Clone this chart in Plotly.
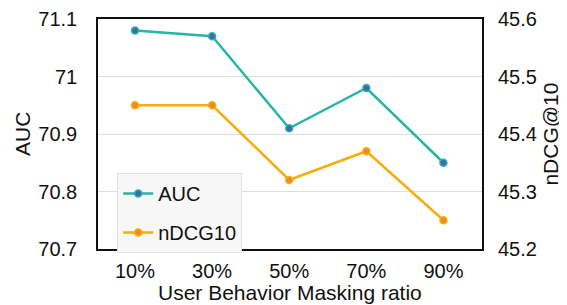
import plotly.graph_objects as go

categories = ["10%", "30%", "50%", "70%", "90%"]
auc = [71.08, 71.07, 70.91, 70.98, 70.85]
ndcg = [45.45, 45.45, 45.32, 45.37, 45.25]
left_ticks = [70.7, 70.8, 70.9, 71.0, 71.1]
left_labels = ["70.7", "70.8", "70.9", "71", "71.1"]
right_ticks = [45.2, 45.3, 45.4, 45.5, 45.6]
right_labels = ["45.2", "45.3", "45.4", "45.5", "45.6"]
x_title = "User Behavior Masking ratio"
y_title = "AUC"
y2_title = "nDCG@10"

FONT = "Liberation Sans, Arial, sans-serif"
x = list(range(len(categories)))

fig = go.Figure()
fig.add_trace(go.Scatter(
    x=x, y=auc, name="AUC", mode="lines+markers", legendgroup="a",
    line=dict(color="#26b5a6", width=2.5),
    marker=dict(size=7, color="#4766b0", line=dict(color="#26b5a6", width=1.5)),
))
fig.add_trace(go.Scatter(
    x=x, y=ndcg, name="nDCG10", mode="lines+markers", yaxis="y2", legendgroup="b",
    line=dict(color="#f5ae0a", width=2.5),
    marker=dict(size=7, color="#f0892a", line=dict(color="#f5ae0a", width=1.5)),
))

title_font = dict(family=FONT, size=21, color="#111")
# the page body has an 8px default margin, so the figure is sized to fit inside it
fig.update_layout(
    width=559, height=297,
    margin=dict(l=90, r=85, t=11, b=56),
    paper_bgcolor="white", plot_bgcolor="white",
    font=dict(family=FONT, size=20, color="#111"),
    showlegend=True,
    legend=dict(
        x=0.05, y=0.33, xanchor="left", yanchor="top",
        bgcolor="#f7f7f7", bordercolor="#e2e2e2", borderwidth=1,
        font=dict(size=20), traceorder="grouped", tracegroupgap=10,
        itemwidth=30,
    ),
    xaxis=dict(
        tickvals=x, ticktext=categories, range=[-0.48, 4.5], automargin=False,
        showline=True, linecolor="#111", linewidth=1.5, mirror=True,
        showgrid=False, ticks="", zeroline=False, ticklabelstandoff=3,
    ),
    yaxis=dict(
        range=[70.7, 71.1], tickvals=left_ticks, ticktext=left_labels, automargin=False,
        showline=True, linecolor="#111", linewidth=1.5, mirror=True,
        showgrid=True, gridcolor="#dddddd", gridwidth=1.2, zeroline=False,
        ticks="", ticklabelstandoff=15,
    ),
    yaxis2=dict(
        range=[45.2, 45.6], tickvals=right_ticks, ticktext=right_labels, automargin=False,
        overlaying="y", side="right", showgrid=False, zeroline=False,
        showline=False, ticks="", ticklabelstandoff=15,
    ),
    annotations=[
        dict(text=x_title, xref="paper", yref="paper", x=0.5, y=-0.187,
             xanchor="center", yanchor="middle", showarrow=False, font=title_font),
        dict(text=y_title, xref="paper", yref="paper", x=-0.198, y=0.5, textangle=-90,
             xanchor="center", yanchor="middle", showarrow=False, font=title_font),
        dict(text=y2_title, xref="paper", yref="paper", x=1.176, y=0.5, textangle=-90,
             xanchor="center", yanchor="middle", showarrow=False, font=title_font),
    ],
)

fig.write_html("out.html")
